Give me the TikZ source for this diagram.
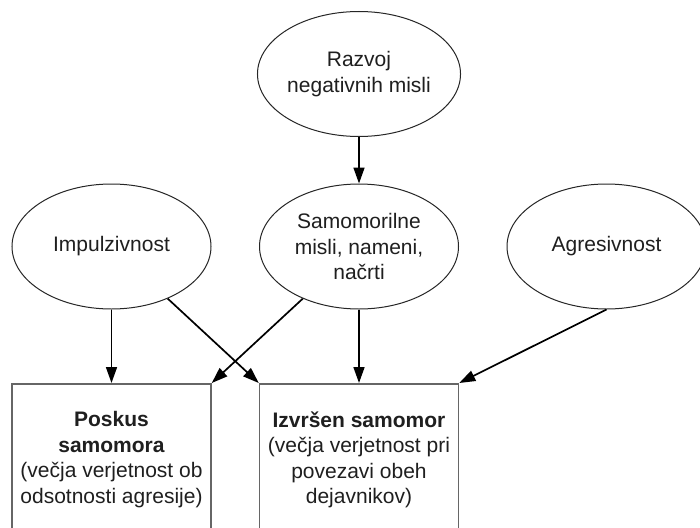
\documentclass[tikz,border=0pt]{standalone}
\usepackage{fontspec}
\setmainfont{Liberation Sans}
\usetikzlibrary{shapes.geometric,arrows.meta}
\begin{document}
\begin{tikzpicture}[x=1pt,y=-1pt,
  txt/.style={font=\fontsize{21}{25.5}\selectfont, text=black!88, align=center},
  oval/.style={txt, ellipse, draw=black!85, line width=1pt, minimum width=199pt, minimum height=125pt, inner sep=0pt},
  outbox/.style={txt, rectangle, draw=black!60, line width=1.5pt, minimum width=199pt, minimum height=152pt, inner sep=0pt, anchor=north},
  conn/.style={line width=1.7pt, black, -{Triangle[length=16pt,width=11pt]}, shorten >=0pt}
]
\useasboundingbox (0,0) rectangle (700,527);
\clip (0,0) rectangle (700,527);
\fill[white] (0,0) rectangle (700,527);

\node[oval] (raz) at (359,74) {Razvoj\\negativnih misli};
\node[oval] (sam) at (359,246.5) {Samomorilne\\misli, nameni,\\načrti};
\node[oval] (imp) at (111.5,246.5) {Impulzivnost};
\node[oval] (agr) at (606.5,246.5) {Agresivnost};

\node[outbox] (lbox) at (111.5,383) {\textbf{Poskus}\\\textbf{samomora}\\(večja verjetnost ob\\odsotnosti agresije)};
\node[outbox] (rbox) at (359,383) {\textbf{Izvršen samomor}\\(večja verjetnost pri\\povezavi obeh\\dejavnikov)};

\draw[conn] (raz) -- (sam);
\draw[conn] (imp) -- (lbox);
\draw[conn] (imp) -- (rbox.north west);
\draw[conn] (sam) -- (lbox.north east);
\draw[conn] (sam) -- (rbox);
\draw[conn] (agr.south) -- (rbox.north east);
\end{tikzpicture}
\end{document}
